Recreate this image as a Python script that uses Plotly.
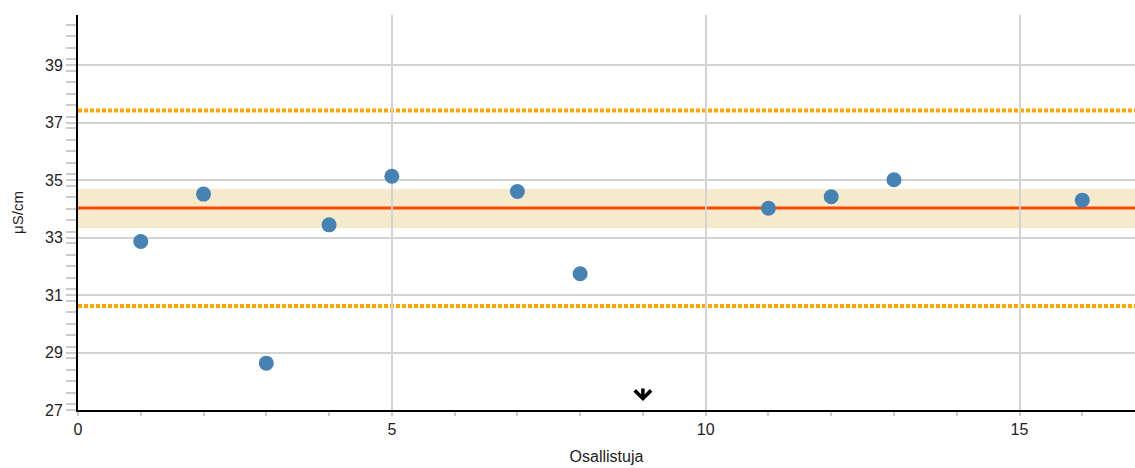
import plotly.graph_objects as go

participants = [1, 2, 3, 4, 5, 7, 8, 11, 12, 13, 16]
results = [32.86, 34.51, 28.63, 33.44, 35.13, 34.60, 31.74, 34.02, 34.42, 35.01, 34.30]

assigned_value = 34.03
band_low = 33.32
band_high = 34.69
limit_low = 30.62
limit_high = 37.42
arrow_x = 9
arrow_tip = 27.31

x_range = [0, 16.84]
y_range = [27, 40.74]

fig = go.Figure()

fig.add_trace(go.Scatter(
    x=participants, y=results, mode="markers",
    marker=dict(size=15, color="#4682b4"),
    showlegend=False, hoverinfo="x+y",
))

fig.add_shape(type="rect", xref="paper", x0=0, x1=1, yref="y", y0=band_low, y1=band_high,
              fillcolor="#f5ebcc", line_width=0, layer="below")
fig.add_shape(type="line", xref="paper", x0=0, x1=1, yref="y", y0=assigned_value, y1=assigned_value,
              line=dict(color="#ff4500", width=3), layer="between")
for v in (limit_low, limit_high):
    fig.add_shape(type="line", xref="paper", x0=0, x1=1, yref="y", y0=v, y1=v,
                  line=dict(color="#ffa500", width=4, dash="4px,2px"), layer="between")

fig.add_annotation(x=arrow_x, y=arrow_tip, xref="x", yref="y", ax=0, ay=-14,
                   showarrow=True, arrowhead=4, arrowsize=0.9,
                   arrowwidth=3.5, arrowcolor="#000000", text="")

fig.update_layout(
    width=1135, height=468,
    margin=dict(l=78, r=0, t=15, b=58),
    paper_bgcolor="white", plot_bgcolor="white",
    font=dict(family="Liberation Sans, Arial, sans-serif", size=16, color="#222"),
)
fig.update_xaxes(
    range=x_range, tick0=0, dtick=5, showgrid=True, gridcolor="#d3d3d3", gridwidth=2,
    ticks="outside", ticklen=4, tickcolor="#cccccc", tickwidth=2,
    minor=dict(dtick=1, ticks="outside", ticklen=4, tickcolor="#cccccc", tickwidth=2, showgrid=False),
    showline=True, linecolor="#000000", linewidth=2, zeroline=False,
    title=dict(text="Osallistuja", font=dict(size=16), standoff=14),
    tickfont=dict(size=16),
)
fig.update_yaxes(
    range=y_range, tick0=27, dtick=2, showgrid=True, gridcolor="#d3d3d3", gridwidth=2,
    ticks="outside", ticklen=10, tickcolor="#cccccc", tickwidth=2,
    minor=dict(dtick=0.4, ticks="outside", ticklen=10, tickcolor="#cccccc", tickwidth=2, showgrid=False),
    showline=True, linecolor="#000000", linewidth=2, zeroline=False,
    title=dict(text="μS/cm", font=dict(size=15), standoff=18),
    tickfont=dict(size=16),
)

fig.write_html(
    "out.html",
    config={"displayModeBar": False},
    post_script="document.body.style.margin='0';document.documentElement.style.overflow='hidden';",
)
